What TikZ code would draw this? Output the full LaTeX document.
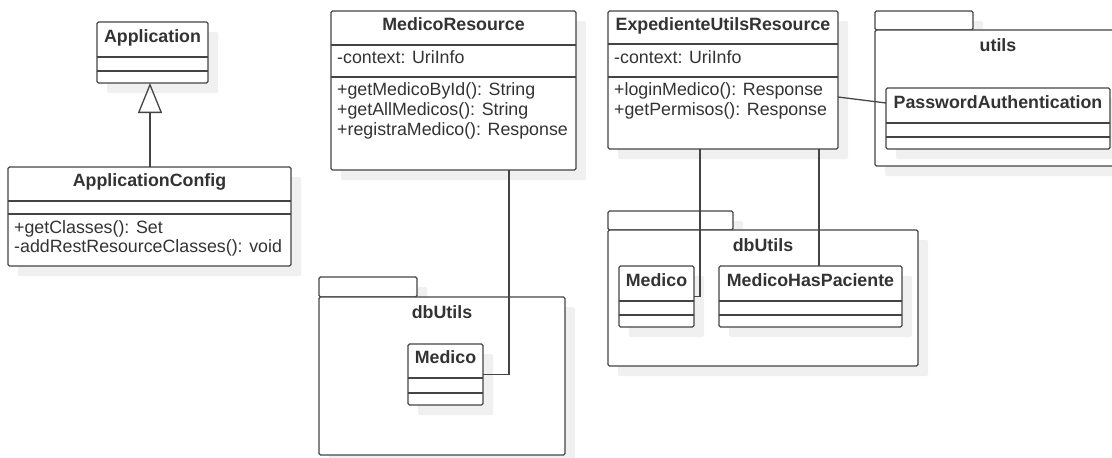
\documentclass[tikz,border=0pt]{standalone}
\usepackage{fontspec}
\setmainfont{Liberation Sans}
\usetikzlibrary{shadows,arrows.meta,calc}
\definecolor{ln}{HTML}{444444}
\definecolor{tx}{HTML}{333333}
\definecolor{sh}{HTML}{F0F0F0}
% name, x1, y1, x2, y2, sep1, sep2, title
\newcommand{\umlclass}[8]{%
  \node[cls, minimum width={(#4-#2)*1pt}, minimum height={(#5-#3)*1pt}] (#1) at (#2,#3) {};
  \draw[sepline] (#1.west |- 0,#6) -- (#1.east |- 0,#6);
  \draw[sepline] (#1.west |- 0,#7) -- (#1.east |- 0,#7);
  \node[title] (#1-t) at ({(#2+#4)/2},{(#3+#6)/2}) {#8};
}
% name, x1, y1(tab top), xtab, ybody, x2, y2, label, labely
\newcommand{\umlpkg}[9]{%
  \node[pkgpart, minimum width={(#4-#2)*1pt}, minimum height={(#5-#3)*1pt}] (#1-tab) at (#2,#3) {};
  \node[pkgpart, minimum width={(#6-#2)*1pt}, minimum height={(#7-#5)*1pt}] (#1) at (#2,#5) {};
  \node[title] (#1-l) at ({(#2+#6)/2},#9) {#8};
}
\begin{document}
\begin{tikzpicture}[x=1pt,y=-1pt,
  shadowed/.style={general shadow={fill=sh, shadow xshift=10pt, shadow yshift=-10pt}},
  cls/.style={draw=ln, line width=1.3pt, fill=white, rounded corners=1.5pt, shadowed,
    inner sep=0pt, outer sep=0pt, anchor=north west},
  pkgpart/.style={cls},
  sepline/.style={draw=ln, line width=1.3pt},
  title/.style={font=\bfseries\fontsize{17.8}{20}\selectfont, text=tx, inner sep=0pt, anchor=mid},
  member/.style={font=\fontsize{17.8}{20}\selectfont, text=tx, inner sep=0pt, anchor=mid west},
  conn/.style={draw=ln, line width=1.3pt},
]
\useasboundingbox[fill=white] (0,0) rectangle (1112,458);

% packages
\umlpkg{utils}{875}{11}{973}{30}{1121}{166}{utils}{49}
\umlpkg{dbA}{319}{277}{417}{297}{565}{455}{dbUtils}{316}
\umlpkg{dbB}{608}{211}{733}{230}{918}{366}{dbUtils}{249}

% classes
\umlclass{app}{97}{22}{208}{83}{57}{71}{Application}
\umlclass{appcfg}{8}{167}{291}{266}{201}{214}{ApplicationConfig}
\node[member] (appcfg-m1) at (14,231) {+getClasses(): Set};
\node[member] (appcfg-m2) at (14,250) {-addRestResourceClasses(): void};

\umlclass{mres}{331}{11}{576}{170}{45}{77}{MedicoResource}
\node[member] (mres-a1) at (337,61) {-context: UriInfo};
\node[member] (mres-m1) at (337,93) {+getMedicoById(): String};
\node[member] (mres-m2) at (337,113) {+getAllMedicos(): String};
\node[member] (mres-m3) at (337,133) {+registraMedico(): Response};

\umlclass{exp}{608}{11}{838}{149}{44}{77}{ExpedienteUtilsResource}
\node[member] (exp-a1) at (614,61) {-context: UriInfo};
\node[member] (exp-m1) at (614,93) {+loginMedico(): Response};
\node[member] (exp-m2) at (614,113) {+getPermisos(): Response};

\umlclass{pwd}{886}{88}{1110}{149}{123}{137}{PasswordAuthentication}
\umlclass{medA}{408}{344}{483}{405}{378}{393}{Medico}
\umlclass{medB}{619}{266}{694}{327}{301}{315}{Medico}
\umlclass{mhp}{719}{266}{902}{327}{301}{315}{MedicoHasPaciente}

% connectors
\draw[conn, -{Triangle[open, length=30pt, width=24pt, line width=1.3pt]}]
  (appcfg.north -| 150,0) -- (app.south -| 150,0);
\draw[conn] (mres.south west) ++(178,0) |- (medA.east);
\draw[conn] (exp.south west) ++(92,0) |- (medB.east);
\draw[conn] (exp.south west) ++(211,0) coordinate (c4) -- (c4 |- mhp.north);
\draw[conn] (exp.north east) ++(0,86) -- ($(pwd.north west)+(0,15)$);
\end{tikzpicture}
\end{document}
